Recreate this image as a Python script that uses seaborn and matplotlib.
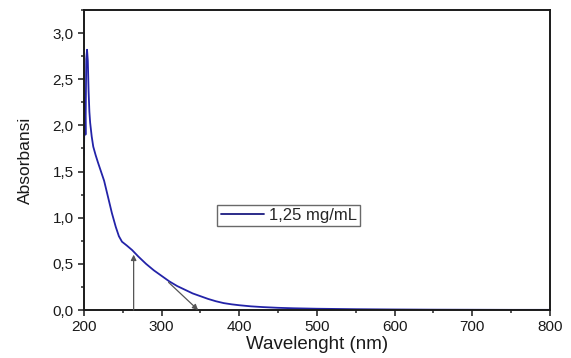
import matplotlib
matplotlib.use("Agg")
import matplotlib.pyplot as plt
from matplotlib.ticker import MultipleLocator, FixedLocator
import numpy as np
import pandas as pd
import seaborn as sns

# UV-Vis absorbance spectrum
wavelength = [200, 201, 202, 203, 204, 205, 206, 207, 208, 210, 212, 215, 218,
              222, 226, 230, 236, 241, 245, 249, 255, 262, 270, 280, 290, 300,
              310, 320, 330, 340, 350, 360, 370, 380, 390, 400, 415, 430, 450,
              470, 500, 550, 600, 650, 700, 750, 800]
absorbance = [1.68, 2.30, 1.90, 2.72, 2.82, 2.70, 2.37, 2.15, 2.03, 1.88, 1.77,
              1.68, 1.60, 1.50, 1.40, 1.26, 1.05, 0.90, 0.80, 0.74, 0.70, 0.65,
              0.58, 0.50, 0.43, 0.37, 0.31, 0.26, 0.22, 0.18, 0.15, 0.12, 0.095,
              0.075, 0.062, 0.052, 0.040, 0.032, 0.024, 0.019, 0.014, 0.009,
              0.006, 0.004, 0.003, 0.002, 0.002]
series_label = "1,25 mg/mL"

# Band-edge construction: vertical marker and tangent extrapolation
marker_x = 264
marker_top = 0.60
tangent_start = (309, 0.30)
tangent_end = (347, 0.0)

x_ticks = [200, 300, 400, 500, 600, 700, 800]
y_ticks = [0.0, 0.5, 1.0, 1.5, 2.0, 2.5, 3.0]
y_tick_labels = ["0,0", "0,5", "1,0", "1,5", "2,0", "2,5", "3,0"]

sns.set_style("ticks")
plt.rcParams["font.family"] = ["Liberation Sans", "DejaVu Sans"]

df = pd.DataFrame({"Wavelength": wavelength, "Absorbance": absorbance})

fig, ax = plt.subplots(figsize=(5.71, 3.58), dpi=100)
fig.subplots_adjust(left=0.147, right=0.963, bottom=0.134, top=0.972)

sns.lineplot(data=df, x="Wavelength", y="Absorbance", ax=ax,
             color="#2323a8", linewidth=1.3, label=series_label)

ax.annotate("", xy=(marker_x, marker_top), xytext=(marker_x, 0.0),
            arrowprops=dict(arrowstyle="-|>", color="#555555", lw=0.9,
                            mutation_scale=8, shrinkA=0, shrinkB=0))
ax.annotate("", xy=tangent_end, xytext=tangent_start,
            arrowprops=dict(arrowstyle="-|>", color="#555555", lw=0.9,
                            mutation_scale=8, shrinkA=0, shrinkB=0))

ax.set_xlim(200, 800)
ax.set_ylim(0, 3.25)
ax.xaxis.set_major_locator(FixedLocator(x_ticks))
ax.xaxis.set_minor_locator(MultipleLocator(50))
ax.yaxis.set_major_locator(FixedLocator(y_ticks))
ax.yaxis.set_minor_locator(MultipleLocator(0.25))
ax.set_yticklabels(y_tick_labels)

ax.tick_params(axis="both", which="major", direction="out", length=4,
               width=1.1, labelsize=11, colors="#1a1a1a")
ax.tick_params(axis="both", which="minor", direction="out", length=2.5,
               width=1.1)
for side in ["left", "right", "top", "bottom"]:
    ax.spines[side].set_visible(True)
    ax.spines[side].set_linewidth(1.4)
    ax.spines[side].set_color("#1a1a1a")

ax.set_xlabel("Wavelenght (nm)", fontsize=13.5, labelpad=1, color="#1a1a1a")
ax.set_ylabel("Absorbansi", fontsize=12.5, labelpad=14, color="#1a1a1a")

leg = ax.legend(loc="center", bbox_to_anchor=(0.44, 0.315), fontsize=12,
                frameon=True, fancybox=False, handlelength=2.6,
                handletextpad=0.3, borderpad=0.2, borderaxespad=0)
leg.get_frame().set_edgecolor("#444444")
leg.get_frame().set_linewidth(1.0)
for line in leg.get_lines():
    line.set_color("#1a1a80")
    line.set_linewidth(1.3)

fig.savefig("out.png", dpi=100)
